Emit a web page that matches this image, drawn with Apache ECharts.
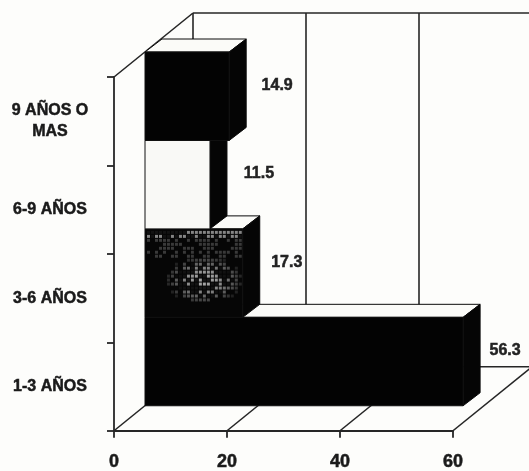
<!DOCTYPE html>
<html>
<head>
<meta charset="utf-8">
<style>
html,body{margin:0;padding:0;background:#fdfdfb;}
#c{width:529px;height:471px;filter:blur(0.6px);}
</style>
<script src="https://cdn.jsdelivr.net/npm/echarts@6/dist/echarts.min.js"></script>
</head>
<body>
<div id="c"></div>
<script>
var categories = ['1-3 AÑOS', '3-6 AÑOS', '6-9 AÑOS', '9 AÑOS O\nMAS'];
var values = [56.3, 17.3, 11.5, 14.9];
var faceColors = ['#030303', '#060606', '#f9f9f6', '#030303'];
var xTicks = [0, 20, 40, 60];

var INK = '#262626';
var WALL = {dx: 79, dy: -64};
var BAR_START = {dx: 31, dy: -25};
var BAR_DEPTH = {dx: 17, dy: -13};
var LABEL_CENTER_DX = [25, 27, 32, 31];

function speckle() {
  var w = 98, h = 89, cv = document.createElement('canvas');
  cv.width = w; cv.height = h;
  var g = cv.getContext('2d');
  for (var y = 2; y < h; y += 4) {
    for (var x = 2; x < w; x += 4) {
      var ex = (x - 58) / 38, ey = (y - 50) / 24;
      var patch = 1 - (ex * ex + ey * ey);
      var band = y < 8 ? 0.8 : (y < 30 ? 0.32 : 0);
      var hatch = ((x * 11 + y * 17 + (x * y) % 7) % 9) < 5 ? 1 : 0.1;
      var a = Math.max(patch * 0.85 + 0.15, band) * hatch;
      if (patch <= 0 && band === 0) a = 0;
      if (a > 0.05) {
        g.fillStyle = 'rgba(165,165,165,' + a.toFixed(2) + ')';
        g.fillRect(x, y, 3, 3);
      }
    }
  }
  return cv;
}
var speckleImage = speckle();

function line(x1, y1, x2, y2) {
  return {type: 'line', shape: {x1: x1, y1: y1, x2: x2, y2: y2},
    style: {stroke: INK, lineWidth: 1.6, fill: null}};
}
function poly(pts, fill) {
  return {type: 'polygon', shape: {points: pts},
    style: {fill: fill, stroke: '#0a0a0a', lineWidth: 1}};
}

function renderWall(params, api) {
  var v = api.value(0);
  var band = api.size([0, 1])[1];
  var bottom = api.coord([0, 0])[1] + band / 2;
  var top = api.coord([0, categories.length - 1])[1] - band / 2;
  var x = api.coord([v, 0])[0];
  var x0 = api.coord([0, 0])[0];
  var x60 = api.coord([xTicks[xTicks.length - 1], 0])[0];
  var kids = [
    line(x, bottom, x + WALL.dx, bottom + WALL.dy),
    line(x + WALL.dx, top + WALL.dy, x + WALL.dx, bottom + WALL.dy)
  ];
  if (v === 0) {
    kids.push(line(x0, top, x0 + WALL.dx, top + WALL.dy));
    kids.push(line(x0 + WALL.dx, top + WALL.dy, x60 + WALL.dx, top + WALL.dy));
    kids.push(line(x0 + WALL.dx, bottom + WALL.dy, x60 + WALL.dx, bottom + WALL.dy));
  }
  return {type: 'group', children: kids};
}

function renderBar(params, api) {
  var i = api.value(1);
  var p0 = api.coord([0, i]);
  var p1 = api.coord([api.value(0), i]);
  var band = api.size([0, 1])[1];
  var xl = p0[0] + BAR_START.dx, xr = p1[0] + BAR_START.dx;
  var yb = p0[1] + band / 2 + BAR_START.dy, yt = p0[1] - band / 2 + BAR_START.dy;
  var dx = BAR_DEPTH.dx, dy = BAR_DEPTH.dy;
  var kids = [
    poly([[xl, yt], [xr, yt], [xr + dx, yt + dy], [xl + dx, yt + dy]], '#fbfbf8'),
    poly([[xr, yb], [xr, yt], [xr + dx, yt + dy], [xr + dx, yb + dy]], '#050505'),
    {type: 'rect', shape: {x: xl, y: yt, width: xr - xl, height: yb - yt},
      style: {fill: faceColors[i], stroke: '#111', lineWidth: 1}}
  ];
  if (i === 1) {
    kids.push({type: 'image', style: {image: speckleImage, x: xl, y: yt, width: xr - xl, height: yb - yt}});
  }
  kids.push({type: 'text', style: {
    text: api.value(0).toFixed(1),
    x: xr + dx + LABEL_CENTER_DX[i],
    y: (yt + yb) / 2 - 11,
    align: 'center', verticalAlign: 'middle',
    font: 'bold 16px "Liberation Sans", Arial, sans-serif', fill: '#222',
    stroke: '#222', lineWidth: 0.5
  }});
  return {type: 'group', children: kids};
}

var chart = echarts.init(document.getElementById('c'), null, {renderer: 'canvas'});
chart.setOption({
  animation: false,
  backgroundColor: '#fdfdfb',
  grid: {left: 114, right: 76, top: 77, bottom: 39, containLabel: false},
  xAxis: {
    type: 'value', min: 0, max: 60, interval: 20,
    splitLine: {show: false},
    axisLine: {show: true, lineStyle: {color: INK, width: 1.8}},
    axisTick: {show: true, length: 7, lineStyle: {color: INK, width: 1.8}},
    axisLabel: {margin: 22, fontFamily: '"Liberation Sans", Arial, sans-serif',
      fontWeight: 'bold', fontSize: 18, color: '#1a1a1a',
      textBorderColor: '#1a1a1a', textBorderWidth: 0.5}
  },
  yAxis: {
    type: 'category', data: categories,
    axisLine: {show: true, lineStyle: {color: INK, width: 1.8}},
    axisTick: {show: true, length: 7, lineStyle: {color: INK, width: 1.8}},
    splitLine: {show: false},
    axisLabel: {margin: 64, align: 'center', lineHeight: 21, interval: 0,
      fontFamily: '"Liberation Sans", Arial, sans-serif',
      fontWeight: 'bold', fontSize: 16, color: '#1a1a1a',
      textBorderColor: '#1a1a1a', textBorderWidth: 0.5}
  },
  series: [
    {type: 'custom', coordinateSystem: 'cartesian2d', z: 1, silent: true,
      clip: false, renderItem: renderWall,
      data: xTicks.map(function (v) { return [v, 0]; }), encode: {x: 0, y: 1}},
    {type: 'custom', coordinateSystem: 'cartesian2d', z: 3, silent: true,
      clip: false, renderItem: renderBar,
      data: values.map(function (v, i) { return [v, i]; }), encode: {x: 0, y: 1}}
  ]
});
</script>
</body>
</html>
